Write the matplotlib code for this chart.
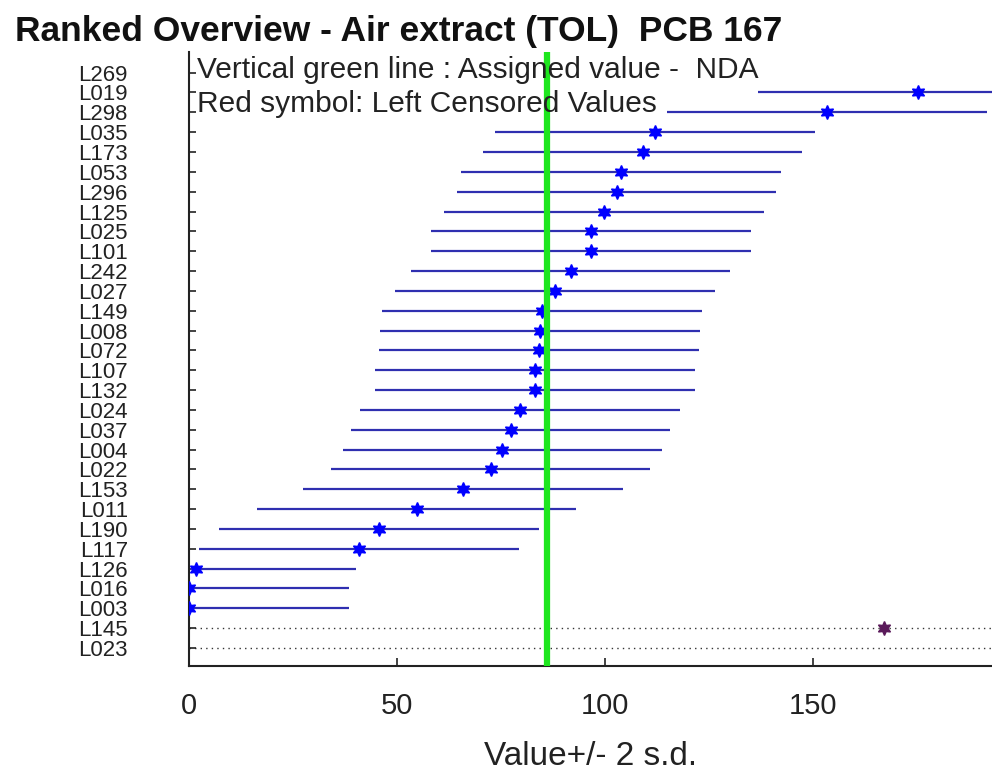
import numpy as np
import matplotlib
matplotlib.use("Agg")
import matplotlib.pyplot as plt

labels = ['L269', 'L019', 'L298', 'L035', 'L173', 'L053', 'L296', 'L125', 'L025', 'L101',
          'L242', 'L027', 'L149', 'L008', 'L072', 'L107', 'L132', 'L024', 'L037', 'L004',
          'L022', 'L153', 'L011', 'L190', 'L117', 'L126', 'L016', 'L003', 'L145', 'L023']
values = [np.nan, 175.2, 153.3, 112.0, 109.0, 103.8, 102.8, 99.8, 96.6, 96.6,
          91.7, 88.0, 84.8, 84.4, 84.1, 83.2, 83.2, 79.6, 77.3, 75.3,
          72.5, 65.8, 54.7, 45.7, 40.9, 1.8, 0.0, 0.0, np.nan, np.nan]
two_sd = 38.4
censored_labels = ['L145', 'L023']
censored_values = [167.0, np.nan]
assigned_value = 86.0
xticks = [0, 50, 100, 150]
xmax = 193.0

plt.rcParams['font.family'] = ['Liberation Sans', 'DejaVu Sans']

fig = plt.figure(figsize=(9.92, 7.75), dpi=100)
ax = fig.add_axes([189/992, 1-666/775, 1-189/992, (666-52)/775])

n = len(labels)
ypos = np.arange(n)
vals = np.array(values, dtype=float)

for y, v in zip(ypos, vals):
    if np.isnan(v):
        continue
    ax.plot([v - two_sd, v + two_sd], [y, y], color='#2f2fb0', lw=1.6, zorder=2, solid_capstyle='butt')

ax.plot(vals, ypos, linestyle='none', marker=(6, 1, 0), ms=10, color='#0000ff', mec='#0000ff', zorder=3)

for lab, cv in zip(censored_labels, censored_values):
    y = labels.index(lab)
    ax.axhline(y, color='#333333', lw=1.0, ls=(0, (1, 3)), zorder=1)
    if not np.isnan(cv):
        ax.plot([cv], [y], linestyle='none', marker=(6, 1, 0), ms=10, color='#5a1a5a', zorder=3)

ax.axvline(assigned_value, color='#1ee61e', lw=4.5, zorder=4)

ax.set_xlim(0, xmax)
ax.set_ylim(n - 1 + 0.91, -1.04)
ax.set_yticks(ypos)
ax.set_yticklabels(labels, fontsize=16)
ax.set_xticks(xticks)
ax.set_xticklabels([str(t) for t in xticks], fontsize=21)
ax.tick_params(axis='y', direction='in', length=5, pad=44, width=1.2, colors='#222222')
ax.tick_params(axis='x', direction='in', length=6, pad=19, width=1.2, colors='#222222')
for lbl in ax.get_yticklabels():
    lbl.set_ha('right')
ax.spines['top'].set_visible(False)
ax.spines['right'].set_visible(False)
ax.spines['left'].set_linewidth(1.5)
ax.spines['bottom'].set_linewidth(1.5)
ax.spines['left'].set_color('#222222')
ax.spines['bottom'].set_color('#222222')

ax.set_xlabel('Value+/- 2 s.d.', fontsize=24, labelpad=15, color='#222222')

ax.text(0.01, 0.970, 'Vertical green line : Assigned value -  NDA', transform=ax.transAxes,
        fontsize=21.5, va='center', ha='left', color='#222222', zorder=5)
ax.text(0.01, 0.916, 'Red symbol: Left Censored Values', transform=ax.transAxes,
        fontsize=21.5, va='center', ha='left', color='#222222', zorder=5)

fig.text(15/992, 1-41/775, 'Ranked Overview - Air extract (TOL)  PCB 167', fontsize=25.5,
         fontweight='bold', ha='left', va='baseline', color='#111111')

fig.savefig('out.png', dpi=100)
